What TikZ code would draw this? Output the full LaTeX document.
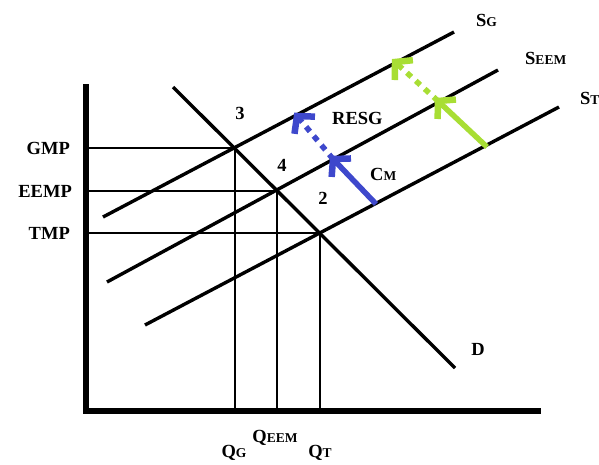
\documentclass[tikz,border=0pt]{standalone}
\usepackage{fontspec}
\setmainfont{Liberation Serif}
\usetikzlibrary{calc}
\newcommand\smc[1]{{\fontsize{13.5}{13.5}\selectfont #1}}
\definecolor{arrblue}{RGB}{62,72,204}
\definecolor{arrgreen}{RGB}{168,222,52}
\begin{document}
\begin{tikzpicture}[x=1pt,y=-1pt,
  curve/.style={line width=3.4pt,black},
  guide/.style={line width=2.8pt,black},
  axisline/.style={line width=5.5pt,black},
  lbl/.style={font=\fontsize{18.5}{18.5}\selectfont\bfseries,inner sep=0pt},
  shaft/.style={line width=5.5pt},
  dashshaft/.style={line width=5.5pt,dash pattern=on 6pt off 6pt},
  chevron/.style={line width=6.5pt,line join=miter,solid}]
\useasboundingbox (0,0) rectangle (599,464);
\fill[white] (0,0) rectangle (599,464);
% axes
\coordinate (o) at (86,411);
\coordinate (ytop) at (86,84);
\coordinate (xend) at (541,411);
\draw[axisline] (ytop) -- (o) -- (xend);
% curves
\coordinate (dtop) at (173,87);
\coordinate (dbot) at (455,368);
\coordinate (sgA) at (103,217);
\coordinate (sgB) at (454,32);
\coordinate (seA) at (107,282);
\coordinate (seB) at (498,70);
\coordinate (stA) at (145,325);
\coordinate (stB) at (559,107);
\draw[curve] (dtop) -- (dbot);
\draw[curve] (sgA) -- (sgB);
\draw[curve] (seA) -- (seB);
\draw[curve] (stA) -- (stB);
% equilibrium points
\coordinate (p3) at (235,148);
\coordinate (p4) at (277,191);
\coordinate (p2) at (320,233);
\draw[guide] (p3) -- (p3 -| o);
\draw[guide] (p4) -- (p4 -| o);
\draw[guide] (p2) -- (p2 -| o);
\draw[guide] (p3) -- (p3 |- o);
\draw[guide] (p4) -- (p4 |- o);
\draw[guide] (p2) -- (p2 |- o);
% arrows
\coordinate (b1) at (376,204);
\coordinate (b2) at (333,159);
\coordinate (b3) at (297,116);
\coordinate (g1) at (487,147);
\coordinate (g2) at (438,101);
\coordinate (g3) at (395,62);
\draw[shaft,arrblue] (b1) -- (b2);
\draw[chevron,arrblue] ($(b2)!18pt!48:(b1)$) -- (b2) -- ($(b2)!18pt!-48:(b1)$);
\draw[dashshaft,arrblue] (b2) -- (b3);
\draw[chevron,arrblue] ($(b3)!18pt!48:(b2)$) -- (b3) -- ($(b3)!18pt!-48:(b2)$);
\draw[shaft,arrgreen] (g1) -- (g2);
\draw[chevron,arrgreen] ($(g2)!18pt!48:(g1)$) -- (g2) -- ($(g2)!18pt!-48:(g1)$);
\draw[dashshaft,arrgreen] (g2) -- (g3);
\draw[chevron,arrgreen] ($(g3)!18pt!48:(g2)$) -- (g3) -- ($(g3)!18pt!-48:(g2)$);
% labels
\node[lbl,anchor=east] (lgmp) at (70,148) {GMP};
\node[lbl,anchor=east] (leemp) at (72,191) {EEMP};
\node[lbl,anchor=east] (ltmp) at (70,233) {TMP};
\node[lbl] (l3) at (240,113) {3};
\node[lbl] (l4) at (282,165) {4};
\node[lbl] (l2) at (323,198) {2};
\node[lbl,anchor=west] (lresg) at (332,118) {RESG};
\node[lbl,anchor=west] (lcm) at (370,174) {C\smc{M}};
\node[lbl,anchor=west] (lsg) at (476,20) {S\smc{G}};
\node[lbl,anchor=west] (lseem) at (525,58) {S\smc{EEM}};
\node[lbl,anchor=west] (lst) at (580,98) {S\smc{T}};
\node[lbl] (ld) at (478,349) {D};
\node[lbl] (lqg) at (234,453) {Q\smc{G}};
\node[lbl] (lqeem) at (275,438) {Q\smc{EEM}};
\node[lbl] (lqt) at (320,453) {Q\smc{T}};
\end{tikzpicture}
\end{document}
